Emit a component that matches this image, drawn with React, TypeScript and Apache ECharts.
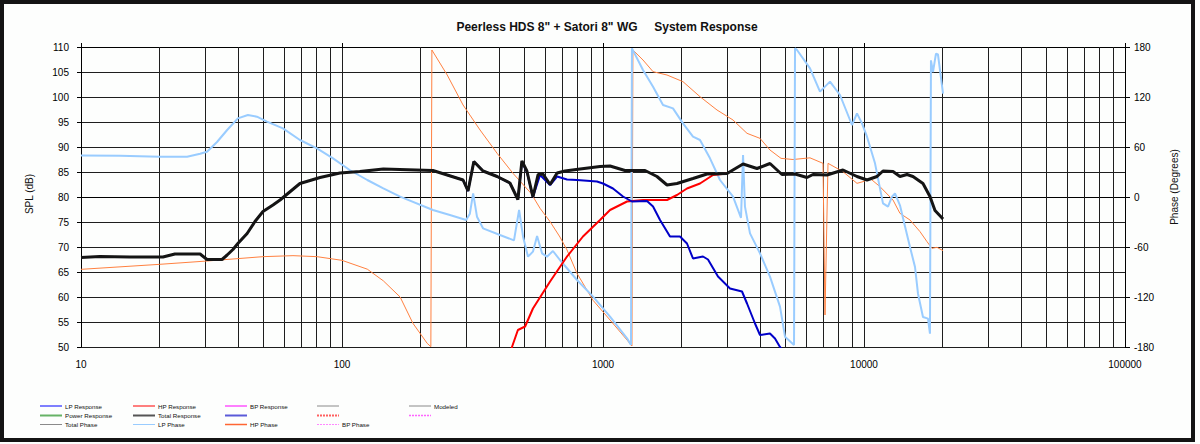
import React, { useEffect, useRef } from "react";
import * as echarts from "echarts";

// ---- Data ----
const totalFreq = [10, 11.8, 15.4, 20.6, 22.9, 28.6, 30.4, 34.7, 36.3, 38.2, 39.9, 43.3, 46.4, 49.8, 54.4, 57.9, 69.0, 82.4, 98.2, 117, 144, 223, 253, 291, 304, 320, 347, 393, 440, 472, 489, 511, 539, 564, 589, 627, 667, 715, 817, 974, 1064, 1214, 1449, 1610, 1759, 1921, 2212, 2503, 2987, 3440, 3891, 4363, 4850, 5441, 6047, 6376, 7215, 8308, 9401, 10268, 11215, 11824, 12914, 13734, 14614, 15404, 16826, 17895, 18708, 20082];
const totalSpl = [67.9, 68.1, 68.0, 68.0, 68.6, 68.6, 67.5, 67.5, 68.4, 69.5, 70.7, 72.7, 75.1, 77.1, 78.4, 79.4, 82.7, 83.9, 84.8, 85.1, 85.6, 85.3, 84.4, 83.4, 81.2, 87.1, 85.2, 84.1, 82.8, 79.5, 87.2, 85.2, 80.0, 84.5, 84.6, 82.5, 84.8, 85.2, 85.6, 86.1, 86.2, 85.3, 85.3, 84.1, 82.4, 82.7, 83.7, 84.6, 84.7, 86.6, 85.7, 86.7, 84.5, 84.6, 83.9, 84.5, 84.4, 85.4, 84.1, 83.4, 84.1, 85.2, 85.1, 84.1, 84.5, 84.1, 82.7, 80.1, 77.3, 75.6];

const lpFreq = [253, 291, 304, 320, 347, 393, 440, 472, 489, 511, 539, 574, 627, 667, 728, 795, 948, 1000, 1092, 1193, 1291, 1474, 1555, 1654, 1806, 1972, 2098, 2212, 2416, 2525, 2758, 3066, 3409, 3563, 3823, 3995, 4363, 4560, 4766, 5207];
const lpSpl = [84.4, 83.4, 81.2, 87.1, 85.2, 84.1, 82.8, 79.5, 87.0, 85.0, 80.0, 84.4, 82.4, 84.1, 83.5, 83.4, 83.1, 82.7, 81.7, 80.1, 79.1, 79.2, 78.1, 75.4, 72.1, 72.1, 70.7, 67.7, 68.1, 67.5, 64.1, 61.7, 61.1, 58.7, 54.7, 52.4, 52.7, 51.7, 50.0, 47.5];

const hpFreq = [440, 448, 472, 503, 539, 627, 728, 838, 974, 1064, 1236, 1423, 1759, 1921, 2098, 2353, 2640, 2987];
const hpSpl = [48.0, 50.0, 53.4, 54.1, 57.7, 63.1, 68.1, 72.1, 75.4, 77.4, 79.1, 79.4, 79.4, 80.4, 81.7, 82.7, 84.4, 84.7];

const lpPhaseFreq = [10, 14.1, 20, 25.5, 28.6, 30.4, 33.2, 36.3, 39.9, 43.6, 47.2, 51.6, 59.4, 69.0, 80.2, 92.4, 107, 125, 144, 167, 223, 259, 299, 309, 318, 329, 347, 403, 456, 477, 494, 516, 539, 559, 584, 610, 643, 684, 795, 916, 1064, 1236, 1280, 1291, 1423, 1555, 1698, 1854, 2025, 2212, 2353, 2570, 2807, 3149, 3379, 3440, 3499, 3658, 3995, 4363, 4766, 4981, 5394, 5441, 5538, 6211, 6782, 7409, 8091, 8995, 9401, 9824, 10268, 11020, 11824, 12359, 12803, 13146, 13734, 14355, 15004, 15683, 16103, 16826, 17587, 17895, 18054, 18378, 18870, 19204, 20082];
const lpPhaseDeg = [49.8, 49.5, 48.4, 48.4, 52, 54.4, 66, 80.4, 94.4, 98.4, 96.4, 90.4, 82.4, 68.4, 58.4, 46.4, 32.4, 20.4, 10.4, 0.4, -15.6, -21.6, -27.6, -20, 4.4, -23.6, -37.6, -45.6, -52, -15.6, -47.6, -71.6, -65.6, -46.8, -67.6, -71.6, -64.8, -75.6, -99.6, -119.6, -143.6, -169.6, -177.6, 178.4, 152.4, 132.4, 110.4, 106.4, 88.4, 72.4, 68.4, 46.4, 20.4, 0.4, -25, 50.4, -11.6, -43.6, -67.6, -95.6, -131.6, -167.6, -177.6, 178.4, 176.4, 154.4, 126.4, 138.4, 122.4, 86.4, 100.4, 88.4, 72.4, 40.4, -7.6, -11.6, 0.4, 4.4, -10, -35, -60, -84, -116, -144, -146, -164, 164, 150, 172, 171, 124];

const hpPhaseFreq = [10, 20, 30.4, 49.8, 64.9, 80.2, 100, 125, 144, 167, 187, 212, 219, 221, 253, 291, 338, 393, 452, 530, 574, 627, 684, 728, 795, 916, 1064, 1236, 1291, 1302, 1423, 1555, 1759, 2025, 2353, 2734, 3149, 3563, 3995, 4363, 4808, 5346, 6211, 6965, 7089, 7279, 8308, 9401, 9913, 10544, 11516, 12914, 13734, 15004, 16392, 17435, 18214, 19038, 20082];
const hpPhaseDeg = [-86.8, -80.8, -76.8, -71.6, -70.4, -71.6, -76, -86.6, -100.6, -120, -151.6, -175.6, -179.6, 176.4, 146.4, 110.4, 80.4, 52.4, 28.4, 4.4, -13.6, -29.6, -48, -63.6, -91.6, -124, -147.6, -171.6, -178.8, 176.4, 164.4, 150.4, 146.4, 138.4, 120.4, 104.4, 92.4, 76.4, 70.4, 56.4, 46.4, 45, 47, 40.4, -141.6, 40.4, 30.4, 16.4, 18.4, 22.4, 12.4, -3.6, -19.6, -27.6, -41.6, -53.6, -61.6, -60.4, -64.4];

const xTickLabels = ["10", "100", "1000", "10000", "100000"];
const titleText = 'Peerless HDS 8" + Satori 8" WG     System Response';

// Legend entries (rows of five columns, as in the reference)
const legendRows = [
  [
    { name: "LP Response", color: "#0000ff" },
    { name: "HP Response", color: "#ff0000" },
    { name: "BP Response", color: "#ff00ff" },
    { name: "", color: "#8a8a8a" },
    { name: "Modeled", color: "#8a8a8a" },
  ],
  [
    { name: "Power Response", color: "#66b366", width: 2 },
    { name: "Total Response", color: "#555555", width: 2 },
    { name: "", color: "#5a5ad8", width: 2 },
    { name: "", color: "#ff6060", width: 2, dash: [2, 1] },
    { name: "", color: "#ff66ff", width: 1.5, dash: [2, 1] },
  ],
  [
    { name: "Total Phase", color: "#8a8a8a" },
    { name: "LP Phase", color: "#99ccff" },
    { name: "HP Phase", color: "#ff6633", width: 1.5 },
    { name: "BP Phase", color: "#ff88ff", dash: [2, 1] },
  ],
];

const FONT = 'Arial, "Liberation Sans", sans-serif';

const pairs = (xs: number[], ys: number[]) => xs.map((x, i) => [x, ys[i]]);

export default function App() {
  const ref = useRef<HTMLDivElement>(null);

  useEffect(() => {
    if (!ref.current) return;
    const chart = echarts.init(ref.current, null, { renderer: "svg" });

    const minorGrid: number[] = [];
    for (let d = 10; d < 100000; d *= 10) {
      for (let k = 2; k <= 9; k++) minorGrid.push(k * d);
    }

    const colX = [40, 133, 225, 317, 409];
    const rowY = [406, 415.5, 424.5];
    const legendGraphics: any[] = [];
    legendRows.forEach((row, r) => {
      row.forEach((it: any, c) => {
        const x0 = colX[c];
        const y0 = rowY[r];
        legendGraphics.push({
          type: "line",
          silent: true,
          shape: { x1: x0, y1: y0, x2: x0 + 22, y2: y0 },
          style: { stroke: it.color, lineWidth: it.width || 1, lineDash: it.dash || null },
        });
        if (it.name) {
          legendGraphics.push({
            type: "text",
            silent: true,
            x: x0 + 25,
            y: y0,
            style: {
              text: it.name,
              fill: "#111",
              fontSize: 6.2,
              fontFamily: FONT,
              textAlign: "left",
              textVerticalAlign: "middle",
            },
          });
        }
      });
    });

    const option: any = {
      animation: false,
      backgroundColor: "#fdfefd",
      grid: { left: 81, right: 75, top: 47, bottom: 97, containLabel: false },
      xAxis: [
        {
          type: "log",
          logBase: 10,
          min: 10,
          max: 100000,
          position: "bottom",
          axisLine: { show: true, lineStyle: { color: "#000", width: 1 } },
          axisTick: { show: false },
          axisLabel: {
            color: "#000",
            fontSize: 10,
            fontFamily: FONT,
            margin: 12,
            formatter: (v: number) => {
              const i = Math.round(Math.log10(v)) - 1;
              return xTickLabels[i] ?? String(v);
            },
          },
          splitLine: { show: true, lineStyle: { color: "#1e1e1e", width: 1 } },
        },
        {
          type: "log",
          logBase: 10,
          min: 10,
          max: 100000,
          position: "top",
          axisLine: { show: true, lineStyle: { color: "#000", width: 1 } },
          axisTick: { show: true, length: 4, lineStyle: { color: "#000" } },
          axisLabel: { show: false },
          splitLine: { show: false },
        },
      ],
      yAxis: [
        {
          type: "value",
          min: 50,
          max: 110,
          interval: 5,
          position: "left",
          axisLine: { show: true, lineStyle: { color: "#000", width: 1 } },
          axisTick: { show: true, length: 4, lineStyle: { color: "#000" } },
          axisLabel: { color: "#000", fontSize: 10, fontFamily: FONT, margin: 12 },
          splitLine: { show: true, lineStyle: { color: "#1e1e1e", width: 1 } },
        },
        {
          type: "value",
          min: -180,
          max: 180,
          interval: 60,
          position: "right",
          axisLine: { show: true, lineStyle: { color: "#000", width: 1 } },
          axisTick: { show: true, length: 5, lineStyle: { color: "#000" } },
          axisLabel: { color: "#000", fontSize: 10, fontFamily: FONT, margin: 9 },
          splitLine: { show: false },
        },
      ],
      series: [
        {
          name: "HP Phase",
          type: "line",
          xAxisIndex: 0,
          yAxisIndex: 1,
          showSymbol: false,
          symbol: "none",
          data: pairs(hpPhaseFreq, hpPhaseDeg),
          lineStyle: { color: "#ff8040", width: 1 },
          z: 2,
        },
        {
          name: "LP Phase",
          type: "line",
          xAxisIndex: 0,
          yAxisIndex: 1,
          showSymbol: false,
          symbol: "none",
          data: pairs(lpPhaseFreq, lpPhaseDeg),
          lineStyle: { color: "#99ccff", width: 2 },
          z: 3,
        },
        {
          name: "HP Response",
          type: "line",
          xAxisIndex: 0,
          yAxisIndex: 0,
          showSymbol: false,
          symbol: "none",
          data: pairs(hpFreq, hpSpl),
          lineStyle: { color: "#ff0000", width: 2 },
          z: 4,
        },
        {
          name: "LP Response",
          type: "line",
          xAxisIndex: 0,
          yAxisIndex: 0,
          showSymbol: false,
          symbol: "none",
          data: pairs(lpFreq, lpSpl),
          lineStyle: { color: "#0000c8", width: 2 },
          z: 5,
        },
        {
          name: "Total Response",
          type: "line",
          xAxisIndex: 0,
          yAxisIndex: 0,
          showSymbol: false,
          symbol: "none",
          data: pairs(totalFreq, totalSpl),
          lineStyle: { color: "#141414", width: 3 },
          z: 6,
          markLine: {
            silent: true,
            animation: false,
            z: 1,
            symbol: ["none", "none"],
            label: { show: false },
            lineStyle: { color: "#1e1e1e", width: 1, type: "solid" },
            emphasis: { disabled: true },
            data: minorGrid.map((v) => ({ xAxis: v })),
          },
        },
      ],
      graphic: [
        {
          type: "rect",
          silent: true,
          shape: { x: 2, y: 2, width: 1191, height: 438 },
          style: { fill: "none", stroke: "#141414", lineWidth: 4 },
        },
        {
          type: "text",
          silent: true,
          x: 607,
          y: 27,
          style: {
            text: titleText,
            fill: "#111",
            fontSize: 12,
            fontWeight: "bold",
            fontFamily: FONT,
            textAlign: "center",
            textVerticalAlign: "middle",
          },
        },
        {
          type: "text",
          silent: true,
          x: 29,
          y: 194,
          rotation: Math.PI / 2,
          style: {
            text: "SPL (dB)",
            fill: "#111",
            fontSize: 10,
            fontFamily: FONT,
            textAlign: "center",
            textVerticalAlign: "middle",
          },
        },
        {
          type: "text",
          silent: true,
          x: 1174,
          y: 187,
          rotation: Math.PI / 2,
          style: {
            text: "Phase (Degrees)",
            fill: "#111",
            fontSize: 10,
            fontFamily: FONT,
            textAlign: "center",
            textVerticalAlign: "middle",
          },
        },
        ...legendGraphics,
      ],
    };

    chart.setOption(option);
    return () => chart.dispose();
  }, []);

  return (
    <div
      ref={ref}
      style={{ position: "absolute", left: 0, top: 0, width: 1200, height: 444 }}
    />
  );
}
